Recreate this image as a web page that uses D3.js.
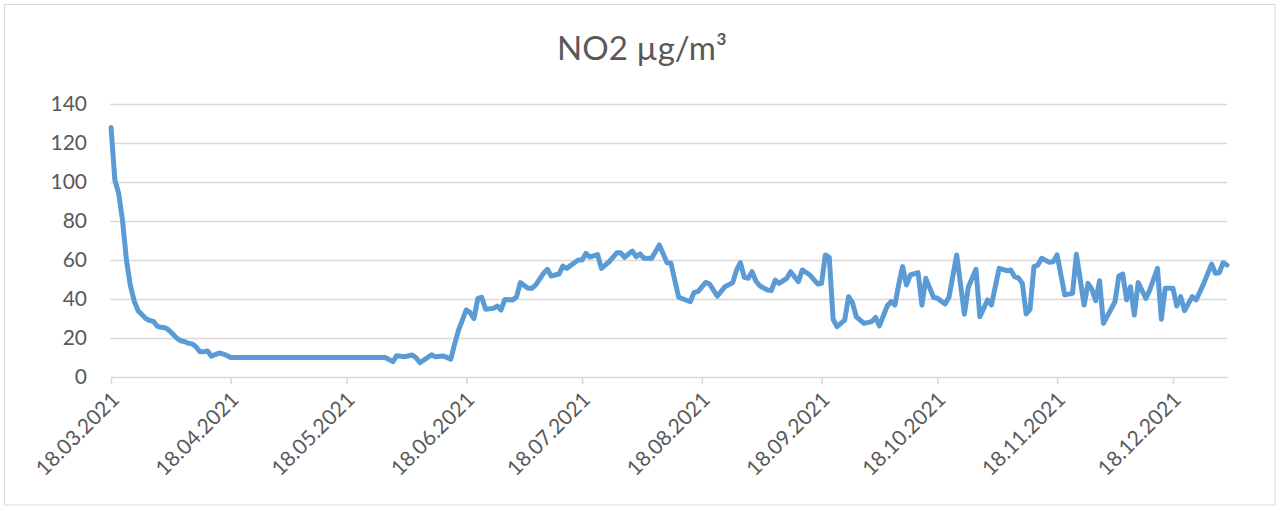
<!DOCTYPE html>
<html>
<head>
<meta charset="utf-8">
<script src="https://cdn.jsdelivr.net/npm/d3@7"></script>
<style>
  body { margin: 0; background: #fff; }
  text { font-family: Lato, "Open Sans", sans-serif; fill: #595959; }
</style>
</head>
<body>
<div id="chart"></div>
<script>
const dates = [
  "2021-03-18","2021-03-19","2021-03-20","2021-03-21","2021-03-22","2021-03-23","2021-03-24","2021-03-25",
  "2021-03-26","2021-03-27","2021-03-28","2021-03-29","2021-03-30","2021-03-31","2021-04-01","2021-04-02",
  "2021-04-03","2021-04-04","2021-04-05","2021-04-06","2021-04-07","2021-04-08","2021-04-09","2021-04-10",
  "2021-04-11","2021-04-12","2021-04-13","2021-04-14","2021-04-15","2021-04-16","2021-04-17","2021-04-18",
  "2021-05-28","2021-05-30","2021-05-31","2021-06-02","2021-06-04","2021-06-05","2021-06-06","2021-06-08",
  "2021-06-09","2021-06-10","2021-06-12","2021-06-14","2021-06-15","2021-06-16","2021-06-17","2021-06-18",
  "2021-06-19","2021-06-20","2021-06-21","2021-06-22","2021-06-23","2021-06-25","2021-06-26","2021-06-27",
  "2021-06-28","2021-06-30","2021-07-01","2021-07-02","2021-07-04","2021-07-05","2021-07-06","2021-07-08",
  "2021-07-09","2021-07-10","2021-07-12","2021-07-13","2021-07-14","2021-07-16","2021-07-17","2021-07-18",
  "2021-07-19","2021-07-20","2021-07-22","2021-07-23","2021-07-25","2021-07-27","2021-07-28","2021-07-29",
  "2021-07-31","2021-08-01","2021-08-02","2021-08-03","2021-08-05","2021-08-07","2021-08-09","2021-08-10",
  "2021-08-12","2021-08-15","2021-08-16","2021-08-17","2021-08-19","2021-08-20","2021-08-22","2021-08-24",
  "2021-08-26","2021-08-27","2021-08-28","2021-08-29","2021-08-30","2021-08-31","2021-09-01","2021-09-02",
  "2021-09-04","2021-09-05","2021-09-06","2021-09-07","2021-09-09","2021-09-10","2021-09-12","2021-09-13",
  "2021-09-15","2021-09-17","2021-09-18","2021-09-19","2021-09-20","2021-09-21","2021-09-22","2021-09-24",
  "2021-09-25","2021-09-26","2021-09-27","2021-09-29","2021-10-01","2021-10-02","2021-10-03","2021-10-05",
  "2021-10-06","2021-10-07","2021-10-08","2021-10-09","2021-10-10","2021-10-11","2021-10-13","2021-10-14",
  "2021-10-15","2021-10-17","2021-10-18","2021-10-20","2021-10-21","2021-10-23","2021-10-25","2021-10-26",
  "2021-10-28","2021-10-29","2021-10-31","2021-11-01","2021-11-03","2021-11-05","2021-11-06","2021-11-07",
  "2021-11-08","2021-11-09","2021-11-10","2021-11-11","2021-11-12","2021-11-13","2021-11-14","2021-11-16",
  "2021-11-17","2021-11-18","2021-11-20","2021-11-22","2021-11-23","2021-11-25","2021-11-26","2021-11-27",
  "2021-11-28","2021-11-29","2021-11-30","2021-12-03","2021-12-04","2021-12-05","2021-12-06","2021-12-07",
  "2021-12-08","2021-12-09","2021-12-11","2021-12-12","2021-12-14","2021-12-15","2021-12-16","2021-12-18",
  "2021-12-19","2021-12-20","2021-12-21","2021-12-23","2021-12-24","2021-12-26","2021-12-28","2021-12-29",
  "2021-12-30","2021-12-31","2022-01-01"
];

// NO2 in µg/m³
const no2 = [
  128, 101, 94, 80, 60, 47, 39, 34,
  32, 30, 29, 28.5, 26, 25.5, 25.3, 24,
  22, 20, 18.6, 18.2, 17.3, 17, 15.5, 13,
  13, 13.3, 10.6, 11.5, 12.3, 11.8, 11, 10,
  10, 7.9, 10.9, 10.4, 11.3, 9.9, 7.3, 10,
  11.4, 10.4, 10.8, 9.2, 17, 24, 29.2, 34.4,
  33, 30, 40.3, 40.9, 34.7, 35.2, 36.4, 34.4,
  39.8, 39.5, 41, 48.4, 45.5, 45.5, 47.2, 53.2,
  55.2, 51.8, 52.8, 56.9, 55.7, 58.6, 60, 60,
  63.4, 61.5, 62.8, 55.7, 59.1, 63.7, 63.7, 61.4,
  64.6, 61.7, 63.1, 60.9, 60.9, 67.7, 58.6, 58.3,
  40.9, 38.6, 43.4, 43.8, 48.5, 47.7, 41.5, 46.3,
  48.4, 54.9, 58.6, 51.1, 50.6, 54, 49.2, 46.8,
  44.6, 44.3, 49.7, 48, 50.6, 54, 48.9, 54.9,
  52.3, 47.7, 48, 62.6, 61.4, 29.6, 25.8, 29.2,
  41.2, 38.1, 30.9, 27.5, 28.4, 30.6, 26.2, 36.4,
  38.6, 36.9, 47.5, 56.6, 47.2, 52.3, 53.5, 36.9,
  50.6, 40.9, 40.4, 37.4, 40.9, 62.6, 32.2, 46,
  55.2, 30.9, 39.5, 36.9, 55.7, 54.5, 54.9, 51.4,
  50.8, 48, 32.3, 34.7, 56.6, 57.4, 60.9, 58.8,
  59.1, 62.6, 42.1, 42.9, 62.9, 36.9, 48, 45,
  39.1, 49.4, 27.5, 38.6, 51.8, 52.8, 39.5, 46.3,
  31.8, 48.4, 40.3, 44.6, 55.7, 29.6, 45.5, 45.5,
  36.4, 41.2, 34, 41.2, 39.5, 48, 57.9, 53.2,
  53.5, 58.6, 57.4
];

const yTicks = [0, 20, 40, 60, 80, 100, 120, 140];
const xTickDates = [
  "2021-03-18","2021-04-18","2021-05-18","2021-06-18","2021-07-18",
  "2021-08-18","2021-09-18","2021-10-18","2021-11-18","2021-12-18"
];
const title = "NO2 µg/m³";

const width = 1280,
    height = 507;

const parse = d3.utcParse("%Y-%m-%d"),
    fmt = d3.utcFormat("%d.%m.%Y");

const data = dates.map((d, i) => ({date: parse(d), value: no2[i]}));

const svg = d3.select("#chart").append("svg")
    .attr("width", width)
    .attr("height", height);

// chart border
svg.append("rect")
    .attr("x", 4.5).attr("y", 4.5)
    .attr("width", 1270.5).attr("height", 500.5)
    .attr("fill", "#fff")
    .attr("stroke", "#d9d9d9")
    .attr("stroke-width", 1);

const x = d3.scaleUtc()
    .domain([parse("2021-03-18"), parse("2022-01-01")])
    .range([111, 1227]);

const y = d3.scaleLinear()
    .domain([0, 140])
    .range([377, 104]);

// gridlines + y labels
const yAxis = svg.append("g")
    .attr("transform", "translate(110,0)")
    .call(d3.axisLeft(y).tickValues(yTicks).tickSize(-(1227 - 110)).tickPadding(23));

yAxis.select(".domain").remove();
yAxis.selectAll(".tick line")
    .attr("stroke", "#d9d9d9")
    .attr("stroke-width", 1.5)
    .filter(d => d === 0).remove();
yAxis.selectAll(".tick text")
    .attr("fill", "#595959")
    .style("font-size", "21px");

// x axis
const xAxis = svg.append("g")
    .attr("transform", "translate(0,377)")
    .call(d3.axisBottom(x)
        .tickValues(xTickDates.map(parse))
        .tickSize(7)
        .tickSizeOuter(0)
        .tickFormat(fmt));

xAxis.select(".domain")
    .attr("stroke", "#d9d9d9")
    .attr("stroke-width", 1.5);
xAxis.selectAll(".tick line")
    .attr("stroke", "#d9d9d9")
    .attr("stroke-width", 1.5);
xAxis.selectAll(".tick text")
    .attr("fill", "#595959")
    .style("font-size", "21px")
    .attr("text-anchor", "end")
    .attr("dy", null)
    .attr("y", null)
    .attr("transform", "translate(9,24) rotate(-45)");

// the series
const line = d3.line()
    .x(d => x(d.date))
    .y(d => y(d.value));

svg.append("path")
    .datum(data)
    .attr("fill", "none")
    .attr("stroke", "#5b9bd5")
    .attr("stroke-width", 5)
    .attr("stroke-linejoin", "round")
    .attr("stroke-linecap", "round")
    .attr("d", line);

svg.append("text")
    .attr("x", 642)
    .attr("y", 60)
    .attr("text-anchor", "middle")
    .style("font-size", "33px")
    .text(title);
</script>
</body>
</html>
